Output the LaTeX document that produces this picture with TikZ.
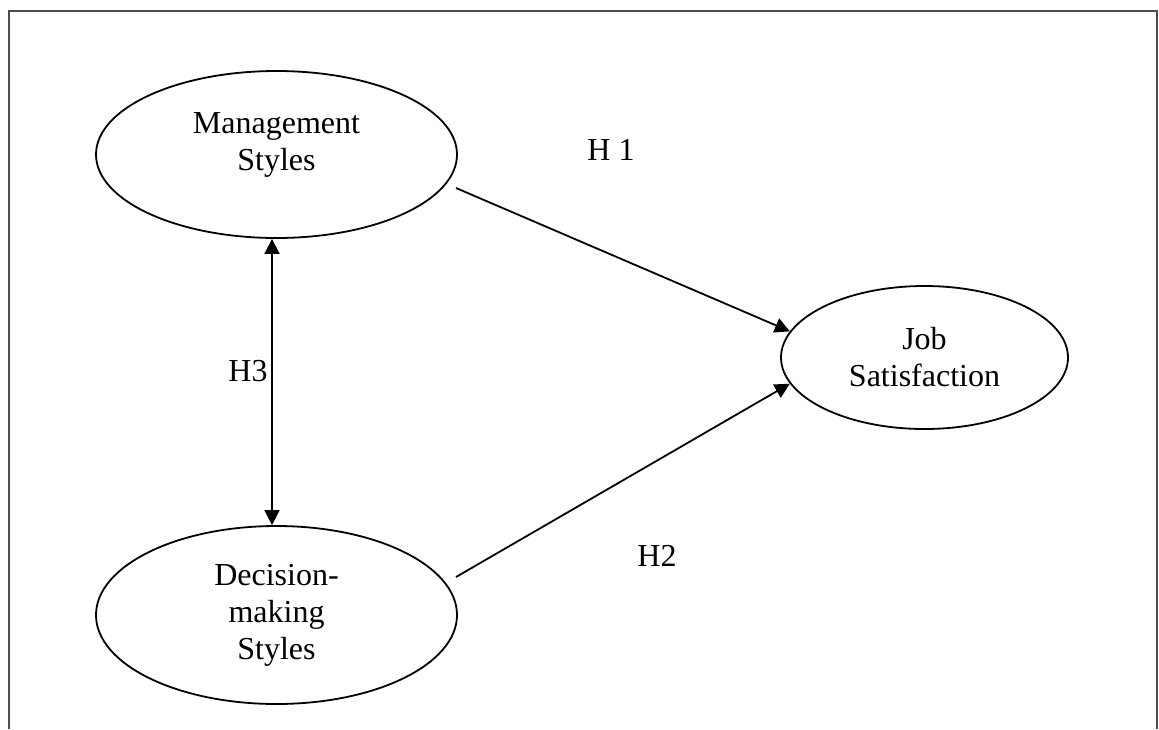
\documentclass[tikz,border=0pt]{standalone}
\usepackage{fontspec}
\setmainfont{Liberation Serif}
\usetikzlibrary{shapes,arrows.meta,positioning,calc}

\begin{document}
\begin{tikzpicture}[
    x=1pt, y=-1pt,
    construct/.style = {ellipse, draw, line width=1.8pt, inner sep=0pt, align=center, font=\fontsize{32}{37}\selectfont},
    hyp/.style = {inner sep=0pt, font=\fontsize{32}{37}\selectfont},
    arrow/.style = {-{Triangle[length=15pt,width=15pt]}, line width=1.8pt},
    twoway/.style = {{Triangle[length=15pt,width=15pt]}-{Triangle[length=15pt,width=15pt]}, line width=1.8pt}
]
    \useasboundingbox (0,0) rectangle (1159,729);
    \draw[black!70, line width=1.2pt] (9,729) -- (9,11) -- (1157,11) -- (1157,729);

    \node[construct, minimum width=361pt, minimum height=167pt, text depth=26pt] (mgmt) at (276.5,154.5) {Management\\Styles};
    \node[construct, minimum width=361pt, minimum height=178pt] (decision) at (276.5,615) {Decision-\\making\\Styles};
    \node[construct, minimum width=287pt, minimum height=143pt] (jobsat) at (924.5,357.5) {Job\\Satisfaction};

    \coordinate (h1start) at (456,188);
    \coordinate (h2start) at (456,577);

    \node[hyp] (h1) at (611,150) {H 1};
    \node[hyp] (h2) at (657,556) {H2};
    \node[hyp] (h3) at (248,371) {H3};

    \draw[arrow] (h1start) -- (jobsat.169);
    \draw[arrow] (h2start) -- (jobsat.191.5);
    \draw[twoway] ([xshift=-4.5pt]mgmt.south) -- ([xshift=-4.5pt]decision.north);
\end{tikzpicture}
\end{document}
